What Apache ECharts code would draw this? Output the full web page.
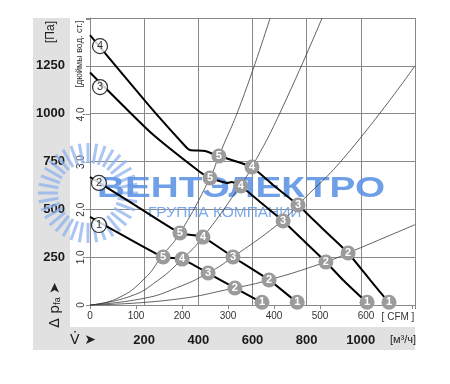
<!DOCTYPE html>
<html><head><meta charset="utf-8">
<script src="https://cdn.jsdelivr.net/npm/echarts@6/dist/echarts.min.js"></script>
<style>html,body{margin:0;padding:0;background:#fff}#c{width:450px;height:384px}</style>
</head><body><div id="c"></div>
<script>
// ---- data: volume flow in m³/h, static pressure in Pa ----
const curve1 = [[0,460],[133,355],[270,251],[340,240],[436,167],[535,89],[635,12]];
const curve2 = [[0,669],[166,522],[332,376],[417,355],[528,251],[661,131],[765,12]];
const curve3 = [[0,1215],[222,904],[406,695],[443,664],[506,638],[524,643],[557,622],[635,530],[713,439],[775,355],[871,225],[934,131],[1023,12]];
const curve4 = [[0,1410],[222,1035],[351,831],[369,810],[424,805],[476,779],[598,721],[676,627],[768,523],[860,397],[953,272],[1034,131],[1104,12]];
// system (resistance) curves through the operating points
const sysA = [[0,0],[100,34],[200,136],[266,256],[332,376],[443,664],[476,779],[560,1065],[665,1500]];
const sysB = [[0,0],[150,46],[250,128],[340,240],[417,355],[554,622],[598,721],[700,1000],[857,1500]];
const sysC = [[0,0],[200,35],[320,90],[436,167],[528,251],[709,439],[768,523],[950,790],[1200,1250]];
const sysD = [[0,0],[300,27],[535,89],[661,131],[871,225],[953,272],[1200,420]];
// operating points 5..1 on each curve
const opLabels = ['5','4','3','2','1'];
const op1 = [[270,251],[340,240],[436,167],[535,89],[635,14]];
const op2 = [[332,376],[417,355],[528,251],[661,131],[765,14]];
const op3 = [[443,664],[557,622],[713,439],[871,225],[1023,14]];
const op4 = [[476,779],[598,721],[768,523],[953,272],[1104,14]];
// curve number markers
const curveLabels = ['1','2','3','4'];
const curveMarks = [[33,418],[33,638],[37,1139],[37,1353]];
// tick labels
const paLabels = [250,500,750,1000,1250];
const inchLabels = ['0','1,0','2,0','3,0','4,0'];
const cfmLabels = [0,100,200,300,400,500,600];
const m3hLabels = [200,400,600,800,1000];

const CFM_MAX = 1200/1.699;
const INCH_MAX = 1500/249.09;
const GRID = '#888888';
const FONT = 'Liberation Sans, Arial, sans-serif';

const chart = echarts.init(document.getElementById('c'), null, {renderer:'canvas'});

function sys(d){return {type:'line',data:d,xAxisIndex:0,yAxisIndex:0,smooth:true,showSymbol:false,silent:true,lineStyle:{color:'#3a3a3a',width:0.8},z:2};}
function fan(d){return {type:'line',data:d,xAxisIndex:0,yAxisIndex:0,smooth:0.15,showSymbol:false,lineStyle:{color:'#000',width:2},z:3};}
function ops(d){return {type:'scatter',xAxisIndex:0,yAxisIndex:0,symbolSize:15,z:5,
  data:d.map((p,i)=>({value:p,name:opLabels[i]})),
  itemStyle:{color:'#9b9b9b',opacity:1},
  label:{show:true,position:'inside',formatter:'{b}',color:'#fff',fontWeight:'bold',fontSize:11,fontFamily:FONT}};}

// decorative logo rays for the watermark
const rays = [];
for(let a=0;a<360;a+=10){
  const r=a*Math.PI/180, cx=88, cy=193;
  rays.push({type:'line',z:1,silent:true,shape:{x1:cx+30*Math.cos(r),y1:cy+30*Math.sin(r),x2:cx+50*Math.cos(r),y2:cy+50*Math.sin(r)},
    style:{stroke:'#8db2ec',lineWidth:3,opacity:0.75}});
}

const option = {
  animation:false,
  grid:{left:90,right:35,top:18,bottom:79},
  xAxis:[
    {type:'value',min:0,max:1200,interval:200,position:'bottom',offset:22,
     axisLine:{show:false},axisTick:{show:false},
     axisLabel:{margin:7,fontSize:13,fontWeight:'bold',color:'#1a1a1a',fontFamily:FONT,
       formatter:v=>m3hLabels.includes(v)?String(v):''},
     splitLine:{show:true,lineStyle:{color:GRID,width:1}}},
    {type:'value',min:0,max:CFM_MAX,interval:100,position:'bottom',offset:0,
     axisLine:{show:true,lineStyle:{color:GRID,width:1}},
     axisTick:{show:true,length:4,lineStyle:{color:GRID}},
     axisLabel:{margin:6,fontSize:10,color:'#333',fontFamily:FONT,
       formatter:v=>cfmLabels.includes(v)?String(v):''},
     splitLine:{show:false}}
  ],
  yAxis:[
    {type:'value',min:0,max:1500,interval:250,position:'left',
     axisLine:{show:true,lineStyle:{color:GRID,width:1}},axisTick:{show:false},
     axisLabel:{margin:25,fontSize:13,fontWeight:'bold',color:'#1a1a1a',fontFamily:FONT,
       formatter:v=>paLabels.includes(v)?String(v):''},
     splitLine:{show:true,lineStyle:{color:GRID,width:1}}},
    {type:'value',min:0,max:INCH_MAX,interval:1,position:'left',offset:0,
     axisLine:{show:false},
     axisTick:{show:true,length:4,lineStyle:{color:GRID}},
     axisLabel:{rotate:90,margin:4,fontSize:10,color:'#333',fontFamily:FONT,
       formatter:v=>(Number.isInteger(v)&&v<inchLabels.length)?inchLabels[v]:''},
     splitLine:{show:false}}
  ],
  graphic:[
    {type:'rect',z:-10,silent:true,shape:{x:33,y:18,width:37,height:332},style:{fill:'#e1e1e1'}},
    {type:'rect',z:-10,silent:true,shape:{x:33,y:327,width:382,height:23},style:{fill:'#e1e1e1'}},
    ...rays,
    {type:'text',z:1,silent:true,x:97,y:189,scaleX:1.29,style:{text:'ВЕНТЭЛЕКТРО',x:0,y:0,fill:'#5f95e4',font:'bold 30px '+FONT,textVerticalAlign:'middle',opacity:0.9}},
    {type:'text',z:1,silent:true,x:148,y:213,scaleX:1.03,style:{text:'ГРУППА КОМПАНИЙ',x:0,y:0,fill:'#6d9fe8',font:'15px '+FONT,textVerticalAlign:'middle',opacity:0.9}},
    {type:'text',x:51,y:32,rotation:Math.PI/2,style:{text:'[Па]',fill:'#222',font:'12px '+FONT,textAlign:'center',textVerticalAlign:'middle'}},
    {type:'text',x:80,y:54,rotation:Math.PI/2,style:{text:'[дюймы вод. ст.]',fill:'#333',font:'9px '+FONT,textAlign:'center',textVerticalAlign:'middle'}},
    {type:'text',x:55,y:305,rotation:Math.PI/2,style:{text:'{a|Δ p}{s|fa} {a|➤}',textAlign:'center',textVerticalAlign:'middle',
      rich:{a:{fontSize:14,fontFamily:'DejaVu Sans, '+FONT,fill:'#222'},s:{fontSize:9,fontFamily:FONT,fill:'#222',verticalAlign:'bottom'}}}},
    {type:'text',x:83,y:340,style:{text:'V\u0307 ➤',fill:'#222',font:'14px DejaVu Sans, '+FONT,textAlign:'center',textVerticalAlign:'middle'}},
    {type:'text',x:398,y:317,style:{text:'[ CFM ]',fill:'#333',font:'10px '+FONT,textAlign:'center',textVerticalAlign:'middle'}},
    {type:'text',x:403,y:340,style:{text:'[м³/ч]',fill:'#222',font:'11px '+FONT,textAlign:'center',textVerticalAlign:'middle'}}
  ],
  series:[
    sys(sysA),sys(sysB),sys(sysC),sys(sysD),
    fan(curve1),fan(curve2),fan(curve3),fan(curve4),
    ops(op1),ops(op2),ops(op3),ops(op4),
    {type:'scatter',xAxisIndex:0,yAxisIndex:0,symbolSize:15,z:6,
     data:curveMarks.map((p,i)=>({value:p,name:curveLabels[i]})),
     itemStyle:{color:'#fff',borderColor:'#000',borderWidth:1.2},
     label:{show:true,position:'inside',formatter:'{b}',color:'#000',fontSize:11,fontFamily:FONT}}
  ]
};
chart.setOption(option);
</script></body></html>
